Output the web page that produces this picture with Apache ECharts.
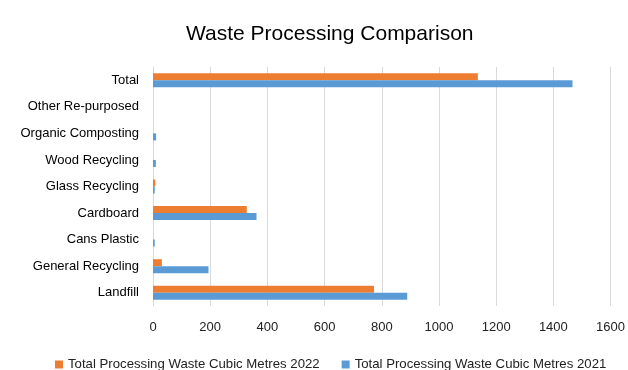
<!DOCTYPE html>
<html>
<head>
<meta charset="utf-8">
<script src="https://cdn.jsdelivr.net/npm/echarts@6/dist/echarts.min.js"></script>
<style>
  html, body { margin: 0; padding: 0; background: #fff; }
  #chart { width: 628px; height: 370px; }
</style>
</head>
<body>
<div id="chart"></div>
<script>
// Categories listed bottom-to-top along the vertical axis
const categories = [
  'Landfill', 'General Recycling', 'Cans Plastic', 'Cardboard',
  'Glass Recycling', 'Wood Recycling', 'Organic Composting',
  'Other Re-purposed', 'Total'
];
const values2022 = [773, 31, 0, 328, 8, 0, 0, 0, 1136];
const values2021 = [889, 194, 6, 362, 6, 10, 11, 0, 1467];
const xTicks = [0, 200, 400, 600, 800, 1000, 1200, 1400, 1600];

const name2022 = 'Total Processing Waste Cubic Metres 2022';
const name2021 = 'Total Processing Waste Cubic Metres 2021';

const font = 'Liberation Sans, Arial, sans-serif';
const chart = echarts.init(document.getElementById('chart'), null, { renderer: 'canvas' });

chart.setOption({
  animation: false,
  title: {
    text: 'Waste Processing Comparison',
    left: 181,
    top: 19,
    textStyle: { fontFamily: font, fontSize: 21, fontWeight: 'normal', color: '#000' }
  },
  legend: {
    data: [name2022, name2021],
    top: 353,
    left: 50,
    itemWidth: 8,
    itemHeight: 8,
    itemGap: 22,
    icon: 'rect',
    textStyle: { fontFamily: font, fontSize: 13.2, color: '#222' }
  },
  grid: { left: 153, right: 16, top: 67, bottom: 64, containLabel: false },
  xAxis: {
    type: 'value',
    min: xTicks[0],
    max: xTicks[xTicks.length - 1],
    interval: xTicks[1] - xTicks[0],
    axisLine: { show: false },
    axisTick: { show: false },
    splitLine: { lineStyle: { color: '#d9d9d9', width: 1 } },
    axisLabel: {
      fontFamily: font, fontSize: 13, color: '#222', margin: 15,
      formatter: v => String(v)
    }
  },
  yAxis: {
    type: 'category',
    data: categories,
    axisLine: { show: true, lineStyle: { color: '#d9d9d9' } },
    axisTick: { show: false },
    axisLabel: { fontFamily: font, fontSize: 13, color: '#000', margin: 14 }
  },
  series: [
    {
      name: name2022,
      type: 'bar',
      data: values2022,
      barWidth: 7,
      barGap: '0%',
      itemStyle: { color: '#ED7D31' }
    },
    {
      name: name2021,
      type: 'bar',
      data: values2021,
      barWidth: 7,
      barGap: '0%',
      itemStyle: { color: '#5B9BD5' }
    }
  ]
});
</script>
</body>
</html>
